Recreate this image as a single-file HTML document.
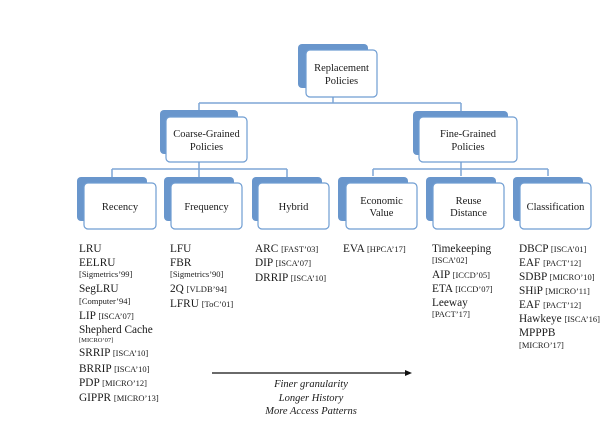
<!DOCTYPE html>
<html><head><meta charset="utf-8"><style>
html,body{margin:0;padding:0;background:#fff;}
svg{display:block;}
text{font-family:"Liberation Serif",serif;fill:#1a1a1a;}
.b{fill:#6996cc;}
.f{fill:#fff;stroke:#6f9dd2;stroke-width:1.2;}
.l{font-size:10.5px;text-anchor:middle;}
.m{font-size:11.3px;}
.s{font-size:8.5px;}
.c{stroke:#7ea6d6;stroke-width:1.5;fill:none;}
</style></head><body>
<svg width="615" height="433" viewBox="0 0 615 433" xmlns="http://www.w3.org/2000/svg">
<path class="c" d="M333 97V103M199 103H461M199 103V110M461 103V111"/>
<path class="c" d="M199 162V169M112 169H287M112 169V177M199 169V177M287 169V177"/>
<path class="c" d="M461 162V169M373 169H548M373 169V176M461 169V176M548 169V176"/>
<rect class="b" x="298" y="44" width="70" height="44" rx="4"/>
<rect class="f" x="306" y="50" width="71" height="47" rx="4"/>
<text class="l" x="341.5" y="71">Replacement</text><text class="l" x="341.5" y="84">Policies</text>
<rect class="b" x="160" y="110" width="78" height="44" rx="4"/>
<rect class="f" x="166" y="117" width="81" height="45" rx="4"/>
<text class="l" x="206.5" y="137">Coarse-Grained</text><text class="l" x="206.5" y="150">Policies</text>
<rect class="b" x="413" y="111" width="95" height="44" rx="4"/>
<rect class="f" x="419" y="117" width="98" height="45" rx="4"/>
<text class="l" x="468" y="137">Fine-Grained</text><text class="l" x="468" y="150">Policies</text>
<g>
<rect class="b" x="77" y="177" width="70" height="44" rx="4"/><rect class="f" x="84" y="183" width="72" height="46" rx="4"/>
<text class="l" x="120" y="210">Recency</text>
<rect class="b" x="164" y="177" width="70" height="44" rx="4"/><rect class="f" x="171" y="183" width="71" height="46" rx="4"/>
<text class="l" x="206.5" y="210">Frequency</text>
<rect class="b" x="252" y="177" width="70" height="44" rx="4"/><rect class="f" x="258" y="183" width="71" height="46" rx="4"/>
<text class="l" x="293.5" y="210">Hybrid</text>
<rect class="b" x="338" y="177" width="70" height="44" rx="4"/><rect class="f" x="346" y="183" width="71" height="46" rx="4"/>
<text class="l" x="381.5" y="204">Economic</text><text class="l" x="381.5" y="216">Value</text>
<rect class="b" x="426" y="177" width="70" height="44" rx="4"/><rect class="f" x="433" y="183" width="71" height="46" rx="4"/>
<text class="l" x="468.5" y="204">Reuse</text><text class="l" x="468.5" y="216">Distance</text>
<rect class="b" x="513" y="177" width="70" height="44" rx="4"/><rect class="f" x="520" y="183" width="71" height="46" rx="4"/>
<text class="l" x="555.5" y="210">Classification</text>
</g>
<g>
<text class="m" x="79" y="252">LRU</text>
<text class="m" x="79" y="266">EELRU</text>
<text class="s" x="79" y="277">[Sigmetrics’99]</text>
<text class="m" x="79" y="292">SegLRU</text>
<text class="s" x="79" y="304">[Computer’94]</text>
<text class="m" x="79" y="319">LIP <tspan class="s">[ISCA’07]</tspan></text>
<text class="m" x="79" y="333">Shepherd Cache</text>
<text class="s" x="79" y="342" style="font-size:6.5px">[MICRO’07]</text>
<text class="m" x="79" y="356">SRRIP <tspan class="s">[ISCA’10]</tspan></text>
<text class="m" x="79" y="372">BRRIP <tspan class="s">[ISCA’10]</tspan></text>
<text class="m" x="79" y="386">PDP <tspan class="s">[MICRO’12]</tspan></text>
<text class="m" x="79" y="401">GIPPR <tspan class="s">[MICRO’13]</tspan></text>
<text class="m" x="170" y="252">LFU</text>
<text class="m" x="170" y="266">FBR</text>
<text class="s" x="170" y="277">[Sigmetrics’90]</text>
<text class="m" x="170" y="292">2Q <tspan class="s">[VLDB’94]</tspan></text>
<text class="m" x="170" y="307">LFRU <tspan class="s">[ToC’01]</tspan></text>
<text class="m" x="255" y="252">ARC <tspan class="s">[FAST’03]</tspan></text>
<text class="m" x="255" y="266">DIP <tspan class="s">[ISCA’07]</tspan></text>
<text class="m" x="255" y="281">DRRIP <tspan class="s">[ISCA’10]</tspan></text>
<text class="m" x="343" y="252">EVA <tspan class="s">[HPCA’17]</tspan></text>
<text class="m" x="432" y="252">Timekeeping</text>
<text class="s" x="432" y="263">[ISCA’02]</text>
<text class="m" x="432" y="278">AIP <tspan class="s">[ICCD’05]</tspan></text>
<text class="m" x="432" y="292">ETA <tspan class="s">[ICCD’07]</tspan></text>
<text class="m" x="432" y="306">Leeway</text>
<text class="s" x="432" y="317">[PACT’17]</text>
<text class="m" x="519" y="252">DBCP <tspan class="s">[ISCA’01]</tspan></text>
<text class="m" x="519" y="266">EAF <tspan class="s">[PACT’12]</tspan></text>
<text class="m" x="519" y="280">SDBP <tspan class="s">[MICRO’10]</tspan></text>
<text class="m" x="519" y="294">SHiP <tspan class="s">[MICRO’11]</tspan></text>
<text class="m" x="519" y="308">EAF <tspan class="s">[PACT’12]</tspan></text>
<text class="m" x="519" y="322">Hawkeye <tspan class="s">[ISCA’16]</tspan></text>
<text class="m" x="519" y="336">MPPPB</text>
<text class="s" x="519" y="348">[MICRO’17]</text>
</g>
<line x1="212" y1="373" x2="408" y2="373" stroke="#111" stroke-width="1.3"/>
<polygon points="412,373 405,370 405,376" fill="#111"/>
<g style="font-style:italic;font-size:10.5px;text-anchor:middle">
<text x="311" y="387">Finer granularity</text>
<text x="311" y="401">Longer History</text>
<text x="311" y="414">More Access Patterns</text>
</g>
</svg>
</body></html>
